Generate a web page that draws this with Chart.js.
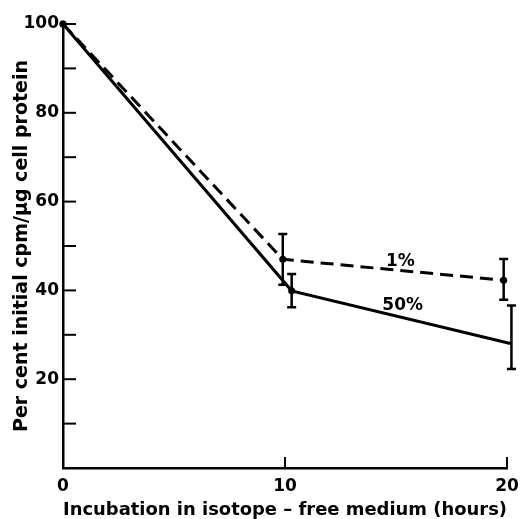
<!DOCTYPE html>
<html><head><meta charset="utf-8">
<script src="https://cdn.jsdelivr.net/npm/chart.js@4.4.1/dist/chart.umd.min.js"></script>
<style>html,body{margin:0;padding:0;background:#fff;overflow:hidden}canvas{display:block}</style>
</head><body>
<canvas id="c" width="521" height="519"></canvas>
<script>
// ---- data ----
const hours1 = [0, 9.9, 19.85];
const pct1 = [100, 47.0, 42.3];
const err1Low = [null, 41.3, 37.9];
const err1High = [null, 52.7, 47.1];

const hours50 = [0, 10.3, 20.2];
const pct50 = [100, 39.9, 28.0];
const err50Low = [null, 36.2, 22.3];
const err50High = [null, 43.7, 36.6];

const seriesNames = ['1%', '50%'];
const seriesLabelAt1 = [15.2, 46.4];
const seriesLabelAt50 = [15.3, 36.5];

const xTicks = [0, 10, 20];
const yTicks = [20, 40, 60, 80, 100];
const yMinorTicks = [10, 30, 50, 70, 90];

const xTitle = 'Incubation in isotope \u2013 free medium (hours)';
const yTitle = 'Per cent initial cpm/\u00b5g cell protein';

const FONT = '"DejaVu Sans", sans-serif';

const toPts = (xs, ys) => xs.map((x, i) => ({x: x, y: ys[i]}));

const decorPlugin = {
  id: 'decor',
  afterDatasetsDraw(chart) {
    const ctx = chart.ctx;
    const xs = chart.scales.x, ys = chart.scales.y;
    ctx.save();
    ctx.strokeStyle = '#000';
    ctx.fillStyle = '#000';
    ctx.lineCap = 'butt';
    // error bars
    const bars = [[hours1, err1Low, err1High], [hours50, err50Low, err50High]];
    ctx.lineWidth = 2.5;
    bars.forEach(([hx, lo, hi]) => {
      hx.forEach((h, i) => {
        if (lo[i] == null) return;
        const px = xs.getPixelForValue(h);
        const y1 = ys.getPixelForValue(lo[i]);
        const y2 = ys.getPixelForValue(hi[i]);
        ctx.beginPath();
        ctx.moveTo(px, y1); ctx.lineTo(px, y2);
        ctx.moveTo(px - 4.5, y1); ctx.lineTo(px + 4.5, y1);
        ctx.moveTo(px - 4.5, y2); ctx.lineTo(px + 4.5, y2);
        ctx.stroke();
      });
    });
    // inward tick marks
    ctx.lineWidth = 2;
    const x0 = xs.left, yb = ys.bottom;
    yTicks.concat(yMinorTicks).forEach(v => {
      const py = ys.getPixelForValue(v);
      ctx.beginPath(); ctx.moveTo(x0, py); ctx.lineTo(x0 + 13, py); ctx.stroke();
    });
    xTicks.slice(1).forEach(v => {
      const px = xs.getPixelForValue(v);
      ctx.beginPath(); ctx.moveTo(px, yb); ctx.lineTo(px, yb - 11); ctx.stroke();
    });
    // series labels
    ctx.font = 'bold 17px ' + FONT;
    ctx.textAlign = 'center';
    ctx.textBaseline = 'middle';
    ctx.fillText(seriesNames[0], xs.getPixelForValue(seriesLabelAt1[0]), ys.getPixelForValue(seriesLabelAt1[1]));
    ctx.fillText(seriesNames[1], xs.getPixelForValue(seriesLabelAt50[0]), ys.getPixelForValue(seriesLabelAt50[1]));
    ctx.restore();
  }
};

new Chart(document.getElementById('c'), {
  type: 'scatter',
  data: {
    datasets: [
      {
        label: seriesNames[0],
        data: toPts(hours1, pct1),
        showLine: true,
        borderColor: '#000',
        backgroundColor: '#000',
        borderWidth: 3,
        borderDash: [13, 7],
        pointRadius: 3.5,
        pointBorderWidth: 0,
        clip: false
      },
      {
        label: seriesNames[1],
        data: toPts(hours50, pct50),
        showLine: true,
        borderColor: '#000',
        backgroundColor: '#000',
        borderWidth: 3,
        pointRadius: 3.5,
        pointBorderWidth: 0,
        clip: false
      }
    ]
  },
  options: {
    responsive: false,
    animation: false,
    devicePixelRatio: 1,
    layout: {padding: {left: 0, top: 24, right: 14, bottom: 0}},
    plugins: {legend: {display: false}, tooltip: {enabled: false}},
    scales: {
      x: {
        type: 'linear', min: 0, max: 20,
        afterBuildTicks: s => { s.ticks = xTicks.map(v => ({value: v})); },
        afterFit: s => { s.height = 51; s.paddingLeft = 0; s.paddingRight = 0; },
        grid: {display: false, drawTicks: false},
        border: {display: true, color: '#000', width: 2.5},
        ticks: {color: '#000', font: {family: FONT, size: 17, weight: 'bold'}, padding: 8, maxRotation: 0},
        title: {display: true, text: xTitle, color: '#000', font: {family: FONT, size: 18, weight: 'bold', lineHeight: 1}, padding: {top: 0, bottom: 0}}
      },
      y: {
        type: 'linear', min: 0, max: 100,
        afterBuildTicks: s => { s.ticks = yTicks.map(v => ({value: v})); },
        afterFit: s => { s.width = 63; s.paddingTop = 0; s.paddingBottom = 0; },
        grid: {display: false, drawTicks: false},
        border: {display: true, color: '#000', width: 2.5},
        ticks: {color: '#000', font: {family: FONT, size: 17, weight: 'bold'}, padding: 4},
        title: {display: true, text: yTitle, color: '#000', font: {family: FONT, size: 19, weight: 'bold', lineHeight: 1}, padding: {top: 13, bottom: 0}}
      }
    }
  },
  plugins: [decorPlugin]
});
</script>
</body></html>
